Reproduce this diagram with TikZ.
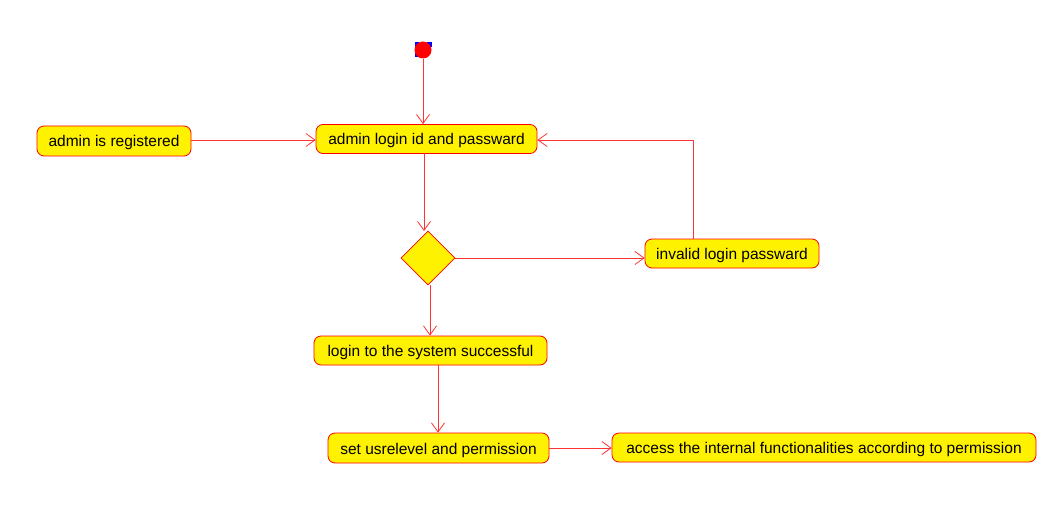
\documentclass[tikz,border=0pt]{standalone}
\usepackage{fontspec}
\setmainfont{Liberation Sans}
\usetikzlibrary{arrows.meta,shapes.geometric}

\begin{document}
\begin{tikzpicture}[x=1pt, y=-1pt,
		action/.style={draw=red, fill=yellow, rounded corners=7pt, line width=0.8pt,
			font=\fontsize{15.5}{17}\selectfont, inner sep=0pt, text height=12pt, text depth=0pt, anchor=center},
		flow/.style={draw=red!80, line width=0.8pt, -{Straight Barb[length=9pt, width=13pt]}},
	]
		\useasboundingbox (0,0) rectangle (1048,505);

		% start
		\fill[blue] (414.5,42.5) rectangle ++(4.5,4.5);
		\fill[blue] (427,42.5) rectangle ++(4.5,4.5);
		\fill[blue] (414.5,53) rectangle ++(4.5,4.5);
		\node[circle, fill=red, minimum size=17pt, inner sep=0pt] (start) at (423,50) {};

		% actions
		\node[action, minimum width=221pt, minimum height=29pt] (login) at (426.5,139) {admin login id and passward};
		\node[action, minimum width=154pt, minimum height=30pt] (registered) at (114,141) {admin is registered};
		\node[diamond, draw=red, fill=yellow, line width=0.8pt, minimum width=54pt, minimum height=54pt, inner sep=0pt] (check) at (428,258) {};
		\node[action, minimum width=174pt, minimum height=29pt] (invalid) at (732,253.5) {invalid login passward};
		\node[action, minimum width=233pt, minimum height=29pt] (success) at (430.5,350.5) {login to the system successful};
		\node[action, minimum width=221pt, minimum height=30pt] (level) at (438.5,448) {set usrelevel and permission};
		\node[action, minimum width=424pt, minimum height=29pt] (access) at (824,447.5) {access the internal functionalities according to permission};

		% connectors
		\draw[flow] (start) -- (start |- login.north);
		\draw[flow] (registered.east |- 0,140) -- (login.west |- 0,140);
		\draw[flow] (424,153.5) -- (424,231);
		\draw[flow] (check.east) -- (check.east -| invalid.west);
		\draw[flow] (invalid.north -| 693,0) |- (login.east |- 0,140);
		\draw[flow] (check.south -| 430,0) -- (success.north -| 430,0);
		\draw[flow] (success.south -| 438,0) -- (level.north -| 438,0);
		\draw[flow] (level.east) -- (level.east -| access.west);
	\end{tikzpicture}
\end{document}
